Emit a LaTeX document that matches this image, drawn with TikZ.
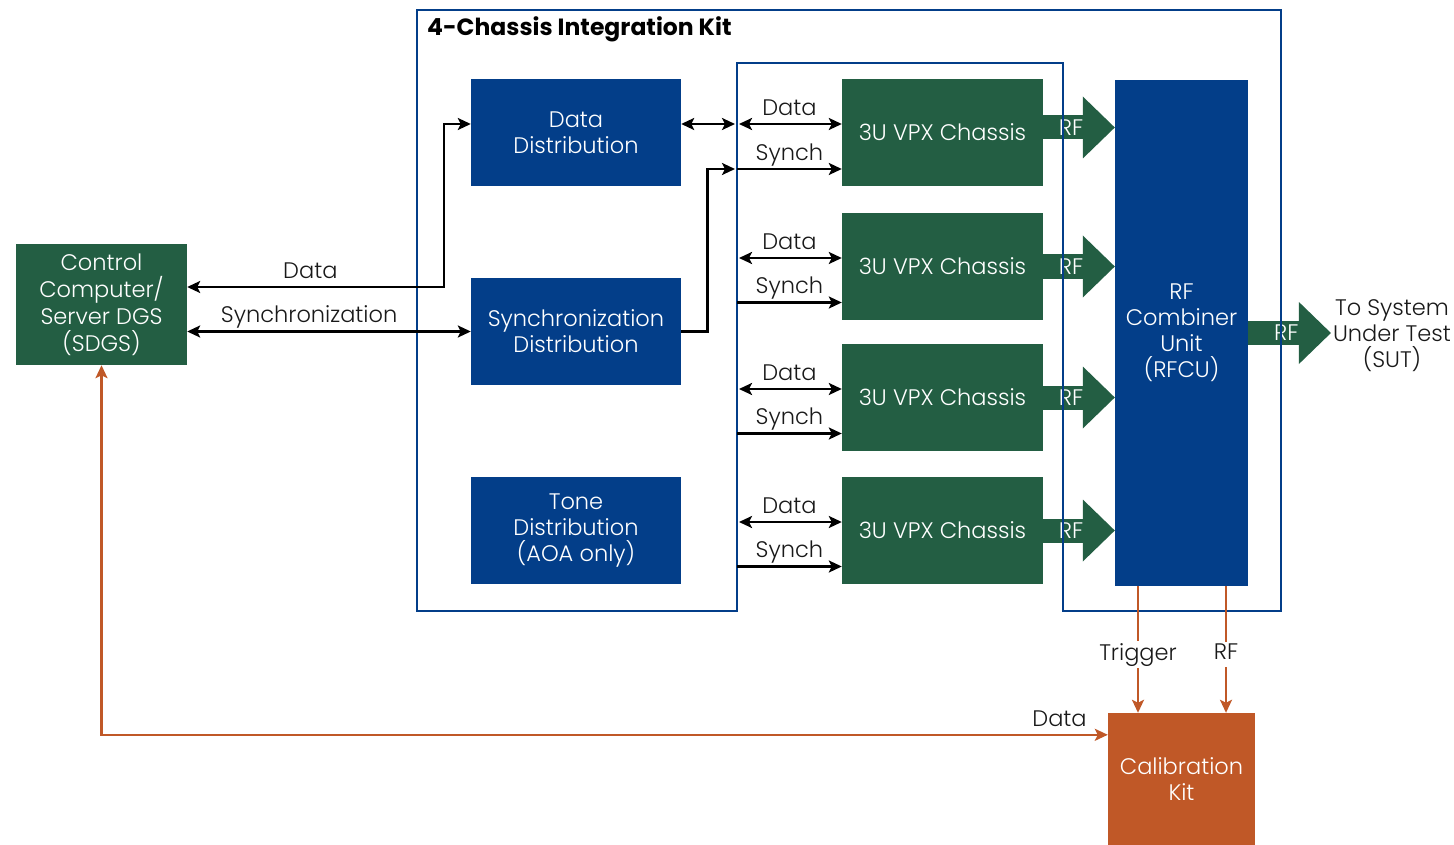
\documentclass[tikz,border=0pt]{standalone}
\usepackage{fontspec}
\IfFontExistsTF{Poppins Light}{\setmainfont{Poppins Light}[BoldFont=Poppins Bold]}{\setmainfont{Poppins}}
\usetikzlibrary{arrows.meta,calc}

\definecolor{kitblue}{HTML}{033E89}
\definecolor{kitgreen}{HTML}{235E43}
\definecolor{kitorange}{HTML}{C05827}

\tikzset{
  txt/.style={font=\fontsize{22.5}{26}\selectfont},
  box/.style={txt, inner sep=0pt, text=white, align=center},
  bluebox/.style={box, fill=kitblue, minimum width=210pt, minimum height=107pt},
  chassis/.style={box, fill=kitgreen, minimum width=201pt, minimum height=107pt},
  lbl/.style={txt, text=black!90, inner sep=2pt, text depth=5.5pt},
  conn/.style={line width=2.6pt, >={Stealth[length=13pt,width=12pt,inset=3pt]}},
  orconn/.style={conn, draw=kitorange},
  rfarrow/.style={draw=kitgreen, line width=24pt,
    -{Triangle[length=32pt,width=62pt,line width=0pt]}},
  rftext/.style={txt, text=white, inner sep=0pt}
}

\begin{document}
\begin{tikzpicture}[x=1pt,y=-1pt]
    \useasboundingbox (0,0) rectangle (1454,845);
    % boxes
    \node[bluebox] (dd) at (576,132.5) {Data\\Distribution};
    \node[bluebox] (sd) at (576,331.5) {Synchronization\\Distribution};
    \node[bluebox] (td) at (576,530.5) {Tone\\Distribution\\(AOA only)};
    \node[chassis] (ch1) at (942.5,132.5) {3U VPX Chassis};
    \node[chassis] (ch2) at (942.5,266.5) {3U VPX Chassis};
    \node[chassis] (ch3) at (942.5,397.5) {3U VPX Chassis};
    \node[chassis] (ch4) at (942.5,530.5) {3U VPX Chassis};
    \node[box, fill=kitblue, minimum width=133pt, minimum height=506pt] (rfcu) at (1181.5,333) {RF\\Combiner\\Unit\\(RFCU)};
    \node[box, fill=kitgreen, minimum width=171pt, minimum height=121pt, font=\fontsize{22.5}{27}\selectfont] (ctrl) at (101.5,304.5) {Control\\Computer/\\Server DGS\\(SDGS)};
    \node[box, fill=kitorange, minimum width=147pt, minimum height=132pt] (cal) at (1181.5,779) {Calibration\\Kit};
    \node[lbl, align=center, text depth=0pt] (sut) at (1392,334) {To System\\Under Test\\(SUT)};
    \node[font=\fontsize{23.5}{26}\selectfont\bfseries, anchor=west, inner sep=0pt] (title) at (427,29) {4-Chassis Integration Kit};

    % points on the chassis bus
    \coordinate (d1) at (737,124);
    \coordinate (s1) at (737,169);
    \coordinate (d2) at (737,258);
    \coordinate (s2) at (737,302.5);
    \coordinate (d3) at (737,389);
    \coordinate (s3) at (737,433.5);
    \coordinate (d4) at (737,522);
    \coordinate (s4) at (737,566.5);

    % RF arrows
    \draw[rfarrow] ($(ch1.east)+(0,-5)$) -- ($(rfcu.west |- ch1.east)+(0,-5)$) node[rftext, pos=0.39] {RF};
    \draw[rfarrow] (ch2.east) -- (rfcu.west |- ch2.east) node[rftext, pos=0.39] {RF};
    \draw[rfarrow] (ch3.east) -- (rfcu.west |- ch3.east) node[rftext, pos=0.39] {RF};
    \draw[rfarrow] (ch4.east) -- (rfcu.west |- ch4.east) node[rftext, pos=0.39] {RF};
    \draw[rfarrow] (rfcu.east) -- (rfcu.east -| sut.west) node[rftext, pos=0.46] {RF};

    % kit outline
    \draw[kitblue, line width=2.5pt] (417,10) -- (1281,10) -- (1281,611) -- (1063,611)
        -- (1063,63) -- (737,63) -- (737,611) -- (417,611) -- cycle;

    % control computer links
    \draw[conn, <->] ($(ctrl.east)+(0,-17.5)$) -| node[lbl, above, pos=0.24] {Data}
        ($(dd.west)+(-27,-8.5)$) -- ($(dd.west)+(0,-8.5)$);
    \draw[conn, <->] (ctrl.east |- sd.west) -- (sd.west) node[lbl, above, pos=0.43] {Synchronization};
    \draw[conn, <->, shorten >=2pt] ($(dd.east)+(0,-8.5)$) -- (d1);
    \draw[conn, ->, shorten >=2pt] (sd.east) -- ++(26,0) |- (s1);

    % chassis links
    \draw[conn, <->, shorten <=2pt] (d1) -- (ch1.west |- d1) node[lbl, above, midway] {Data};
    \draw[conn, ->] (s1) -- (ch1.west |- s1) node[lbl, above, midway] {Synch};
    \draw[conn, <->, shorten <=2pt] (d2) -- (ch2.west |- d2) node[lbl, above, midway] {Data};
    \draw[conn, ->] (s2) -- (ch2.west |- s2) node[lbl, above, midway] {Synch};
    \draw[conn, <->, shorten <=2pt] (d3) -- (ch3.west |- d3) node[lbl, above, midway] {Data};
    \draw[conn, ->] (s3) -- (ch3.west |- s3) node[lbl, above, midway] {Synch};
    \draw[conn, <->, shorten <=2pt] (d4) -- (ch4.west |- d4) node[lbl, above, midway] {Data};
    \draw[conn, ->] (s4) -- (ch4.west |- s4) node[lbl, above, midway] {Synch};

    % calibration links
    \draw[orconn, ->] ($(rfcu.south)+(-43.5,0)$) -- ($(cal.north)+(-43.5,0)$)
        node[lbl, fill=white, midway, yshift=-5pt] {Trigger};
    \draw[orconn, ->] ($(rfcu.south)+(44.5,0)$) -- ($(cal.north)+(44.5,0)$)
        node[lbl, fill=white, midway, yshift=-5pt] {RF};
    \draw[orconn, <->] (ctrl.south) |- ($(cal.north west)+(0,22)$) node[lbl, above, pos=0.976] {Data};
\end{tikzpicture}
\end{document}
